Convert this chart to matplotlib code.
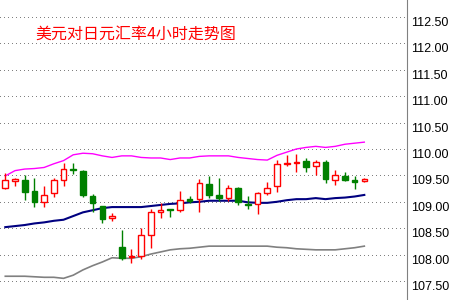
import matplotlib
matplotlib.use("Agg")
import matplotlib.pyplot as plt
from matplotlib.ticker import FixedLocator, FormatStrFormatter

# ---- data (USD/JPY, 4-hour candles) ----
opens  = [109.27, 109.40, 109.41, 109.20, 109.00, 109.17, 109.41, 109.62, 109.58, 109.11,
          108.92, 108.69, 108.14, 107.95, 107.97, 108.37, 108.81, 108.86, 108.84, 109.05,
          109.05, 109.34, 109.13, 109.07, 109.26, 108.96, 108.96, 109.16, 109.30, 109.72,
          109.73, 109.77, 109.67, 109.75, 109.41, 109.49, 109.41, 109.40]
highs  = [109.54, 109.46, 109.51, 109.45, 109.30, 109.45, 109.74, 109.74, 109.60, 109.14,
          108.92, 108.78, 108.47, 108.11, 108.50, 108.86, 108.98, 108.86, 109.20, 109.11,
          109.43, 109.49, 109.45, 109.32, 109.28, 109.11, 109.19, 109.38, 109.80, 109.89,
          109.91, 109.83, 109.80, 109.80, 109.60, 109.56, 109.49, 109.45]
lows   = [109.25, 109.29, 109.03, 108.91, 108.91, 109.10, 109.30, 109.52, 109.10, 108.80,
          108.60, 108.64, 107.90, 107.85, 107.91, 108.13, 108.70, 108.72, 108.81, 108.98,
          108.80, 109.08, 109.02, 109.02, 108.93, 108.87, 108.77, 109.12, 109.19, 109.68,
          109.57, 109.57, 109.51, 109.36, 109.31, 109.39, 109.25, 109.38]
closes = [109.41, 109.43, 109.19, 109.00, 109.12, 109.41, 109.63, 109.60, 109.13, 108.97,
          108.68, 108.73, 107.94, 107.97, 108.37, 108.80, 108.84, 108.84, 109.03, 109.02,
          109.35, 109.12, 109.08, 109.27, 108.99, 108.93, 109.16, 109.27, 109.71, 109.73,
          109.75, 109.66, 109.75, 109.44, 109.50, 109.41, 109.38, 109.43]

band_upper = [109.49, 109.59, 109.62, 109.63, 109.65, 109.72, 109.78, 109.89, 109.92, 109.91,
              109.87, 109.84, 109.87, 109.87, 109.84, 109.83, 109.83, 109.80, 109.83, 109.83,
              109.86, 109.87, 109.87, 109.87, 109.84, 109.82, 109.80, 109.79, 109.88, 109.94,
              110.00, 110.03, 110.05, 110.03, 110.05, 110.09, 110.11, 110.13]
band_mid   = [108.52, 108.54, 108.56, 108.59, 108.61, 108.64, 108.66, 108.73, 108.80, 108.84,
              108.88, 108.90, 108.90, 108.90, 108.90, 108.92, 108.94, 108.96, 108.97, 108.99,
              109.00, 109.02, 109.02, 109.02, 109.02, 108.99, 108.98, 108.98, 109.00, 109.03,
              109.05, 109.05, 109.07, 109.05, 109.07, 109.08, 109.10, 109.13]
band_lower = [107.59, 107.59, 107.59, 107.58, 107.57, 107.57, 107.55, 107.61, 107.71, 107.79,
              107.86, 107.94, 107.93, 107.93, 107.96, 108.01, 108.05, 108.09, 108.11, 108.12,
              108.14, 108.16, 108.16, 108.16, 108.16, 108.16, 108.16, 108.16, 108.14, 108.13,
              108.11, 108.10, 108.09, 108.09, 108.09, 108.11, 108.13, 108.16]

ytick_values = [107.5, 108.0, 108.5, 109.0, 109.5, 110.0, 110.5, 111.0, 111.5, 112.0, 112.5]
title = "美元对日元汇率4小时走势图"

# ---- figure ----
W, H, DPI = 451, 300, 100
fig = plt.figure(figsize=(W / DPI, H / DPI), dpi=DPI, facecolor="white")
ax = fig.add_axes([0, 0, 407.3 / W, 1])
ax.set_facecolor("white")

UP, DOWN = "#ff0000", "#008000"
n = len(opens)
xs = list(range(n))

# bands
ax.plot(xs, band_upper, color="#ff00ff", lw=1.0, zorder=2)
ax.plot(xs, band_mid, color="#000080", lw=1.5, zorder=2)
ax.plot(xs, band_lower, color="#808080", lw=1.2, zorder=2)

# candles
for i in range(n):
    o, h, l, c = opens[i], highs[i], lows[i], closes[i]
    up = c >= o
    col = UP if up else DOWN
    ax.vlines(i, l, h, color=col, lw=1.0, zorder=3)
    bottom = min(o, c)
    height = max(abs(c - o), 0.004)
    ax.bar(i, height, bottom=bottom, width=0.58,
           facecolor="white" if up else col, edgecolor=col, lw=1.0, zorder=4)

ax.set_xlim(-0.546, 41.43)
ax.set_ylim(107.140, 112.822)

# axis styling
for s in ["left", "top", "bottom"]:
    ax.spines[s].set_visible(False)
ax.spines["right"].set_color("#808080")
ax.spines["right"].set_linewidth(0.8)
ax.set_xticks([])
ax.yaxis.tick_right()
ax.yaxis.set_major_locator(FixedLocator(ytick_values))
ax.yaxis.set_major_formatter(FormatStrFormatter("%.2f"))
ax.tick_params(axis="y", length=0, pad=2.6, labelsize=9, labelcolor="black")
for t in ax.yaxis.get_major_ticks(len(ytick_values)):
    t.label2.set_fontfamily("Liberation Sans")
    t.label2.set_verticalalignment("top")
ax.yaxis.grid(True, color="#808080", lw=0.72, linestyle=(0, (1, 3)), antialiased=False, zorder=1)
ax.set_axisbelow(True)

fig.text(35 / W, 1 - 34 / H, title, color="#ff0000", fontsize=11.5,
         family=["Noto Sans CJK SC", "DejaVu Sans"], va="center", ha="left")

fig.savefig("out.png", dpi=DPI, facecolor="white")
